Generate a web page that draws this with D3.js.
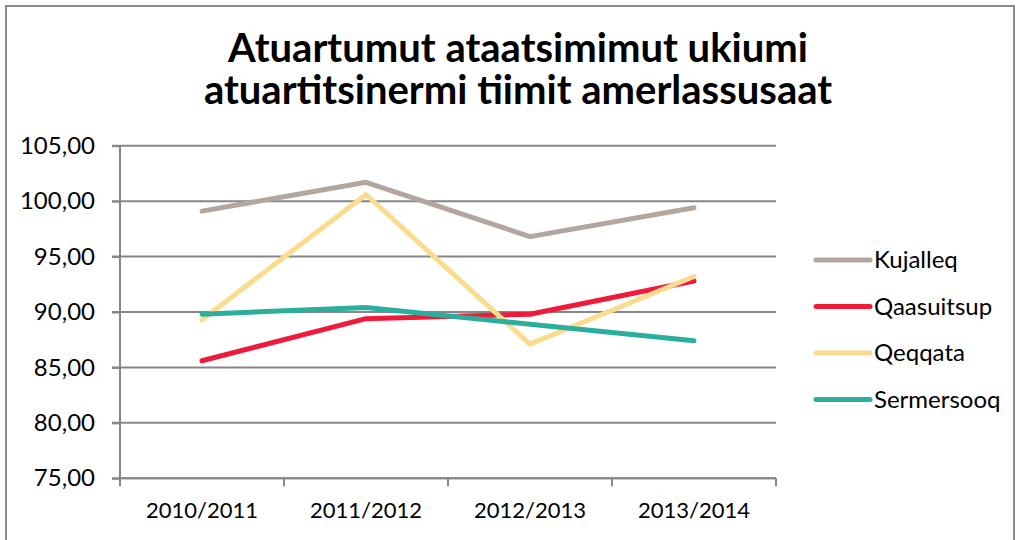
<!DOCTYPE html>
<html><head><meta charset="utf-8">
<script src="https://cdn.jsdelivr.net/npm/d3@7"></script>
<style>body{margin:0;background:#fff}svg{display:block}</style>
</head><body>
<script>
const categories = ["2010/2011","2011/2012","2012/2013","2013/2014"];
const kujalleq   = [99.1, 101.7, 96.8, 99.4];
const qaasuitsup = [85.6, 89.4, 89.8, 92.8];
const qeqqata    = [89.3, 100.6, 87.1, 93.2];
const sermersooq = [89.8, 90.4, 88.9, 87.4];
const seriesNames = ["Kujalleq","Qaasuitsup","Qeqqata","Sermersooq"];
const seriesColors = ["#B3A69E","#EE1B3B","#FADC8F","#2BAE9E"];
const yTicks = [75,80,85,90,95,100,105];
const titleLines = ["Atuartumut ataatsimimut ukiumi","atuartitsinermi tiimit amerlassusaat"];

(function(){
const series = [kujalleq, qaasuitsup, qeqqata, sermersooq].map((v,i)=>({name:seriesNames[i], color:seriesColors[i], values:v}));

const W=1021,H=540;
const svg=d3.select("body").append("svg").attr("width",W).attr("height",H);
const font="Lato, 'Open Sans', sans-serif";

// outer frame
svg.append("rect").attr("x",6).attr("y",6).attr("width",1008).attr("height",560)
  .attr("fill","none").attr("stroke","#8c8c8c").attr("stroke-width",2);
// cut-off glyph at top (as in the reference)
svg.append("text").attr("x",141).attr("y",-2).attr("font-family",font).attr("font-size",14).attr("fill","#222").text("p");

// title (one text element, two lines)
const title=svg.append("text").attr("text-anchor","middle")
  .attr("font-family",font).attr("font-weight",700).attr("font-size",40).attr("fill","#000");
title.selectAll("tspan").data(titleLines).join("tspan")
  .attr("x",518).attr("y",(d,i)=>62+i*42).text(d=>d);

const pl=120,pr=776,pt=145.7,pb=478.3;
const x=d3.scaleBand().domain(categories).range([pl,pr]);
const y=d3.scaleLinear().domain([75,105]).range([pb,pt]);

// gridlines
svg.append("g").selectAll("line").data(yTicks).join("line")
  .attr("x1",112).attr("x2",pr).attr("y1",d=>y(d)).attr("y2",d=>y(d))
  .attr("stroke","#878787").attr("stroke-width",2);

// y axis
const yAxis=d3.axisLeft(y).tickValues(yTicks).tickSize(8).tickPadding(17)
  .tickFormat(d=>d3.format(".2f")(d).replace(".",","));
const gy=svg.append("g").attr("transform",`translate(${pl},0)`).call(yAxis);
gy.select(".domain").attr("stroke","#878787").attr("stroke-width",2).attr("d",`M0,${pt}V${pb+8}`);
gy.selectAll(".tick line").attr("stroke","#878787").attr("stroke-width",2);
gy.selectAll(".tick text").attr("font-family",font).attr("font-size",24).attr("fill","#000");

// x axis
const xAxis=d3.axisBottom(x).tickSize(0).tickPadding(24);
const gx=svg.append("g").attr("transform",`translate(0,${pb})`).call(xAxis);
gx.select(".domain").attr("stroke","#878787").attr("stroke-width",2).attr("d",`M${pl},0H${pr}`);
gx.selectAll(".tick text").attr("font-family",font).attr("font-size",22).attr("fill","#000");
const edges=categories.map(c=>x(c)).concat([pr]);
gx.append("g").selectAll("line").data(edges).join("line")
  .attr("x1",d=>d).attr("x2",d=>d).attr("y1",0).attr("y2",8)
  .attr("stroke","#878787").attr("stroke-width",2);

// lines
const line=d3.line().x((d,i)=>x(categories[i])+x.bandwidth()/2).y(d=>y(d));
svg.append("g").selectAll("path").data(series).join("path")
  .attr("d",d=>line(d.values)).attr("fill","none").attr("stroke",d=>d.color)
  .attr("stroke-width",5).attr("stroke-linejoin","round").attr("stroke-linecap","round");

// legend
const lg=svg.append("g").selectAll("g").data(series).join("g")
  .attr("transform",(d,i)=>`translate(816,${260+i*46.5})`);
lg.append("line").attr("x1",0).attr("x2",54).attr("stroke",d=>d.color).attr("stroke-width",5).attr("stroke-linecap","round");
lg.append("text").attr("x",58).attr("dy","0.35em").attr("font-family",font).attr("font-size",24).attr("fill","#000").text(d=>d.name);
})();
</script>
</body></html>
